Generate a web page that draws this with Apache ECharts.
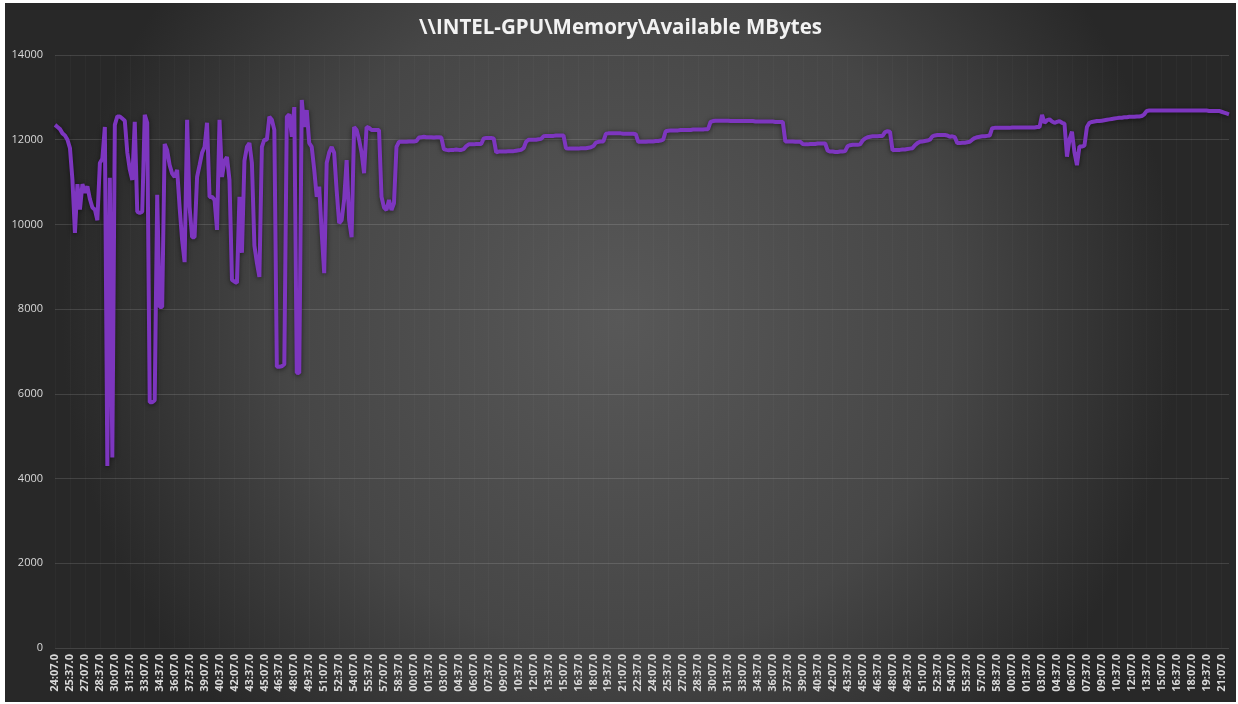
<!DOCTYPE html>
<html>
<head>
<meta charset="utf-8">
<script src="https://cdn.jsdelivr.net/npm/echarts@6/dist/echarts.min.js"></script>
<style>
  html, body { margin: 0; padding: 0; background: #ffffff; }
  #main { position: absolute; left: 5px; top: 3px; width: 1231px; height: 699px; }
</style>
</head>
<body>
<div id="main"></div>
<script>
// perfmon samples every 15 s, first sample at 24:07.0
var startSec = 24 * 60 + 7;
var stepSec = 15;

// first ~35 minutes: heavy paging, lots of swings
var burstPhase = [
  12350, 12300, 12250, 12150, 12100, 12000, 11800, 11050, 9800, 10950,
  10350, 10950, 10750, 10900, 10600, 10400, 10350, 10100, 11450, 11550,
  12300, 4300, 11100, 4500, 12350, 12550, 12550, 12500, 12450, 11700,
  11300, 11050, 12420, 10300, 10270, 10300, 12590, 12400, 5800, 5800,
  5850, 10700, 8050, 8050, 11900, 11750, 11400, 11200, 11120, 11290,
  10400, 9630, 9110, 12470, 10410, 9700, 9700, 11120, 11400, 11690,
  11830, 12400, 10650, 10650, 10580, 9870, 12470, 11120, 11500, 11590,
  11050, 8690, 8650, 8620, 10650, 9330, 11500, 11830, 11920, 11450,
  9500, 9090, 8760, 11830, 12000, 12000, 12540, 12470, 12230, 6640,
  6640, 6650, 6700, 12540, 12600, 12070, 12770, 6500, 6490, 12940,
  12300, 12700, 11920, 11830, 11290, 10650, 10890, 9800, 8850, 11450,
  11700, 11830, 11690, 10800, 10030, 10100, 10580, 11520, 10100, 9700,
  12300, 12230, 12000, 11690, 11210, 12300, 12280, 12230, 12230, 12230,
  12230, 10650, 10400, 10340, 10580, 10340, 10500, 11830, 11950
];

// after that it settles between ~11.7 and ~12.7 GB
var steadyPhase = [
  11950, 11950, 11950, 11960, 11960, 11960, 11970,
  12050, 12060, 12070, 12060, 12060, 12060, 12050, 12060, 12060, 12050,
  11780, 11760, 11750, 11760, 11760, 11770, 11760, 11760, 11780,
  11850, 11890, 11890, 11890, 11900, 11900, 11900,
  12030, 12040, 12040, 12040, 12030,
  11700, 11720, 11720, 11720, 11720, 11730, 11730, 11730, 11740, 11750, 11760, 11800,
  11950, 12000, 12000, 12000, 12000, 12010, 12020,
  12080, 12090, 12090, 12090, 12090, 12100, 12100, 12100, 12100,
  11800, 11790, 11790, 11790, 11790, 11790, 11800, 11800, 11800, 11810, 11820, 11850,
  11930, 11950, 11960, 11960,
  12140, 12150, 12150, 12150, 12150, 12150, 12150, 12140, 12140, 12140, 12140, 12140, 12130,
  11950, 11950, 11950, 11950, 11960, 11960, 11960, 11970, 11970, 11980, 12000,
  12200, 12210, 12220, 12220, 12220, 12220, 12230, 12230, 12230, 12230, 12230, 12240, 12240, 12240, 12240, 12240, 12250, 12250,
  12420, 12440, 12450, 12450, 12450, 12450, 12450, 12450, 12440, 12440,
  12440, 12440, 12440, 12440, 12440, 12440, 12440, 12440, 12430, 12430,
  12430, 12430, 12430, 12430, 12430, 12430, 12420, 12420, 12420, 12420,
  11960, 11960, 11960, 11960, 11950, 11950, 11950,
  11900, 11890, 11890, 11900, 11900, 11900, 11910, 11910, 11910, 11910,
  11740, 11720, 11720, 11710, 11710, 11720, 11720, 11730,
  11850, 11870, 11880, 11880, 11880, 11890,
  11980, 12030, 12060, 12070, 12080, 12080, 12080, 12090, 12090,
  12180, 12200, 12190,
  11750, 11760, 11760, 11760, 11770, 11770, 11780, 11790, 11800,
  11870, 11920, 11950, 11960, 11970, 11980, 12000,
  12080, 12100, 12110, 12110, 12110, 12110, 12100,
  12070, 12080, 12060,
  11920, 11920, 11930, 11930, 11940, 11950,
  12000, 12040, 12060, 12070, 12080, 12080, 12090, 12100,
  12270, 12280, 12280, 12280, 12280, 12280, 12280, 12280, 12290, 12290,
  12290, 12290, 12290, 12290, 12290, 12290, 12290, 12290, 12300, 12300,
  12585,
  12400, 12460, 12480, 12430, 12400, 12420, 12440, 12400, 12380,
  11600, 12000, 12190, 11700, 11400, 11840, 11840, 11860, 12300, 12400,
  12420, 12430, 12440, 12440, 12450, 12460, 12470, 12480, 12490, 12500,
  12510, 12520, 12520, 12530, 12530, 12540, 12540, 12540, 12550, 12550, 12560,
  12600,
  12680, 12690, 12690, 12690, 12690, 12690, 12690, 12690, 12690, 12690,
  12690, 12690, 12690, 12690, 12690, 12690, 12690, 12690, 12690, 12690,
  12690, 12690, 12690, 12690, 12690, 12680, 12680, 12680, 12680, 12680,
  12660, 12640, 12620, 12600
];

var availableMB = burstPhase.concat(steadyPhase);

var yTicks = { min: 0, max: 14000, interval: 2000 };

function pad2(n) { return (n < 10 ? '0' : '') + n; }

var timeLabels = [];
for (var i = 0; i < availableMB.length; i++) {
  var t = (startSec + i * stepSec) % 3600;
  timeLabels.push(pad2(Math.floor(t / 60)) + ':' + pad2(t % 60) + '.0');
}

var myChart = echarts.init(document.getElementById('main'));

var option = {
  backgroundColor: {
    type: 'radial', x: 0.5, y: 0.45, r: 0.8,
    colorStops: [
      { offset: 0, color: '#585858' },
      { offset: 0.6, color: '#464646' },
      { offset: 1, color: '#282828' }
    ]
  },
  animation: false,
  title: {
    text: '\\\\INTEL-GPU\\Memory\\Available MBytes',
    left: 'center',
    top: 10,
    textStyle: {
      color: '#f2f2f2',
      fontFamily: 'Open Sans',
      fontWeight: 'bold',
      fontSize: 20.5
    }
  },
  grid: {
    left: 50,
    right: 7,
    top: 52,
    bottom: 54,
    containLabel: false
  },
  xAxis: {
    type: 'category',
    boundaryGap: false,
    data: timeLabels,
    axisLine: { show: false },
    axisTick: { show: false },
    axisLabel: {
      interval: 5,
      rotate: 90,
      margin: 6,
      color: '#d9d9d9',
      fontFamily: 'Open Sans',
      fontWeight: 'bold',
      fontSize: 11
    },
    splitLine: {
      show: true,
      interval: 5,
      lineStyle: { color: 'rgba(255,255,255,0.025)', width: 1 }
    }
  },
  yAxis: {
    type: 'value',
    min: yTicks.min,
    max: yTicks.max,
    interval: yTicks.interval,
    axisLine: { show: false },
    axisTick: { show: false },
    axisLabel: {
      margin: 12,
      color: '#d9d9d9',
      fontFamily: 'Open Sans',
      fontSize: 11,
      formatter: function (v) { return String(v); }
    },
    splitLine: {
      lineStyle: { color: 'rgba(255,255,255,0.13)', width: 1 }
    }
  },
  series: [
    {
      name: 'Available MBytes',
      type: 'line',
      data: availableMB,
      showSymbol: false,
      symbol: 'none',
      lineStyle: {
        color: '#7d36bf',
        width: 4,
        shadowColor: 'rgba(0,0,0,0.55)',
        shadowBlur: 5,
        shadowOffsetY: 1
      }
    }
  ]
};

if (option && typeof option === 'object') {
  myChart.setOption(option, true);
}
</script>
</body>
</html>
